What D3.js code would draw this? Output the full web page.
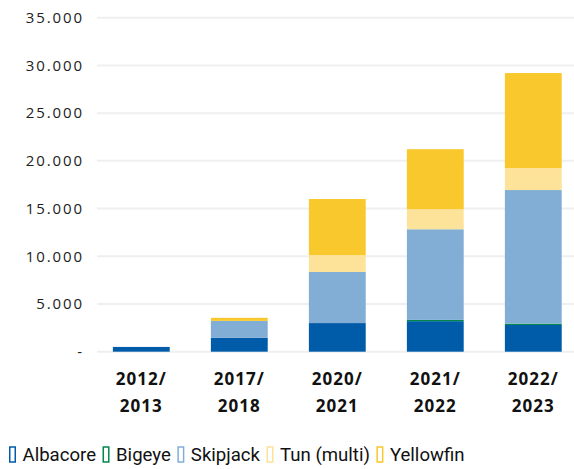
<!DOCTYPE html>
<html lang="en">
<head>
  <meta charset="utf-8">
  <title>Tuna catch</title>
  <style>
    body { margin: 0; background: #fff; }
    .axis text { font: 15px "Open Sans", sans-serif; fill: #222; letter-spacing: 1.9px; }
    .axis path, .axis line { display: none; }
    .grid line { stroke: #efefef; stroke-width: 2; }
    .xlab { font: bold 17px "Open Sans", sans-serif; fill: #111; letter-spacing: 1px; }
    .legend text { font: 18.6px Roboto, sans-serif; fill: #111; }
  </style>
</head>
<body>
<div id="chart"></div>
<script src="https://d3js.org/d3.v7.min.js"></script>
<script>
  let seasons = ["2012/2013", "2017/2018", "2020/2021", "2021/2022", "2022/2023"];
  let species = ["Albacore", "Bigeye", "Skipjack", "Tun (multi)", "Yellowfin"];
  let albacore = [500, 1450, 3000, 3200, 2800];
  let bigeye = [0, 0, 0, 130, 140];
  let skipjack = [0, 1780, 5350, 9500, 14000];
  let tunMulti = [0, 0, 1780, 2100, 2300];
  let yellowfin = [0, 320, 5870, 6290, 9960];
  let yTicks = [0, 5000, 10000, 15000, 20000, 25000, 30000, 35000];
  let colors = ["#005ca9", "#00884a", "#82aed6", "#fde299", "#f8c82c"];

  let width = 574, height = 469;
  let svg = d3.select("#chart").append("svg")
    .attr("width", width)
    .attr("height", height);

  let rows = seasons.map((s, i) => ({
    season: s,
    "Albacore": albacore[i],
    "Bigeye": bigeye[i],
    "Skipjack": skipjack[i],
    "Tun (multi)": tunMulti[i],
    "Yellowfin": yellowfin[i]
  }));

  let x = d3.scaleBand().domain(seasons).range([92.3, 582.3]).paddingInner(0.42).paddingOuter(0.21);
  let y = d3.scaleLinear().domain([0, 35000]).range([351.7, 17.7]);
  let color = d3.scaleOrdinal().domain(species).range(colors);

  let loc = d3.formatLocale({ decimal: ",", thousands: ".", grouping: [3], currency: ["", ""] });
  let fmt = loc.format(",");

  // grid
  svg.append("g").attr("class", "grid")
    .selectAll("line").data(yTicks).enter().append("line")
    .attr("x1", 97).attr("x2", 574)
    .attr("y1", d => y(d)).attr("y2", d => y(d));

  svg.append("g").attr("class", "axis")
    .attr("transform", "translate(87,0)")
    .call(d3.axisLeft(y).tickValues(yTicks).tickSize(0).tickPadding(3)
      .tickFormat(d => d === 0 ? "-" : fmt(d)));

  let stack = d3.stack().keys(species)(rows);

  svg.append("g").selectAll("g").data(stack).enter().append("g")
    .attr("fill", d => color(d.key))
    .selectAll("rect").data(d => d).enter().append("rect")
    .attr("x", d => x(d.data.season))
    .attr("width", x.bandwidth())
    .attr("y", d => y(d[1]))
    .attr("height", d => y(d[0]) - y(d[1]));

  // x labels on two lines
  let xl = svg.append("g").selectAll("text").data(seasons).enter().append("text")
    .attr("class", "xlab")
    .attr("text-anchor", "middle")
    .attr("x", d => x(d) + x.bandwidth() / 2);
  xl.append("tspan").attr("x", d => x(d) + x.bandwidth() / 2).attr("y", 385).text(d => d.split("/")[0] + "/");
  xl.append("tspan").attr("x", d => x(d) + x.bandwidth() / 2).attr("y", 411.5).text(d => d.split("/")[1]);

  // legend
  let leg = svg.append("g").attr("class", "legend");
  let lx = 9;
  species.forEach((s, i) => {
    leg.append("rect")
      .attr("x", lx + 0.75).attr("y", 447)
      .attr("width", 5.5).attr("height", 15)
      .attr("fill", "none")
      .attr("stroke", colors[i])
      .attr("stroke-width", 1.5);
    let t = leg.append("text")
      .attr("x", lx + 13.5).attr("y", 460.5)
      .text(s);
    lx = lx + 13.5 + t.node().getComputedTextLength() + 6.5;
  });
</script>
</body>
</html>
